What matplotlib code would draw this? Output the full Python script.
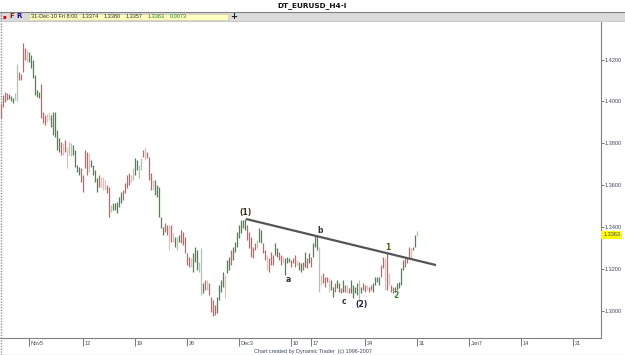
import matplotlib
matplotlib.use("Agg")
import matplotlib.pyplot as plt
import matplotlib.transforms as mtransforms
from matplotlib.patches import Rectangle
from matplotlib.lines import Line2D

# H4 bars (high / low per bar)
highs = [
    1.3992, 1.4030, 1.4045, 1.4040, 1.4035, 1.4026, 1.4016, 1.4040, 1.4178, 1.4140,
    1.4130, 1.4278, 1.4255, 1.4245, 1.4235, 1.4221, 1.4197, 1.4126, 1.4054, 1.4045,
    1.4083, 1.3949, 1.3935, 1.3940, 1.3944, 1.3935, 1.3949, 1.3949, 1.3863, 1.3825,
    1.3806, 1.3801, 1.3816, 1.3782, 1.3806, 1.3801, 1.3792, 1.3768, 1.3696, 1.3687,
    1.3682, 1.3649, 1.3768, 1.3758, 1.3754, 1.3720, 1.3696, 1.3673, 1.3634, 1.3649,
    1.3639, 1.3639, 1.3625, 1.3601, 1.3591, 1.3506, 1.3515, 1.3515, 1.3520, 1.3544,
    1.3568, 1.3577, 1.3611, 1.3649, 1.3658, 1.3649, 1.3682, 1.3730, 1.3720, 1.3696,
    1.3730, 1.3768, 1.3782, 1.3758, 1.3735, 1.3658, 1.3625, 1.3625, 1.3601, 1.3591,
    1.3448, 1.3401, 1.3420, 1.3410, 1.3410, 1.3410, 1.3372, 1.3353, 1.3353, 1.3363,
    1.3386, 1.3377, 1.3353, 1.3277, 1.3258, 1.3253, 1.3277, 1.3305, 1.3291, 1.3234,
    1.3301, 1.3134, 1.3148, 1.3148, 1.3134, 1.3067, 1.3052, 1.3029, 1.3067, 1.3124,
    1.3148, 1.3186, 1.3172, 1.3243, 1.3258, 1.3291, 1.3305, 1.3329, 1.3377, 1.3410,
    1.3434, 1.3434, 1.3439, 1.3410, 1.3377, 1.3353, 1.3305, 1.3324, 1.3339, 1.3396,
    1.3386, 1.3324, 1.3291, 1.3267, 1.3253, 1.3281, 1.3267, 1.3324, 1.3301, 1.3281,
    1.3267, 1.3262, 1.3253, 1.3258, 1.3253, 1.3243, 1.3253, 1.3267, 1.3243, 1.3234,
    1.3229, 1.3234, 1.3281, 1.3253, 1.3277, 1.3258, 1.3324, 1.3363, 1.3358, 1.3305,
    1.3172, 1.3181, 1.3162, 1.3162, 1.3157, 1.3148, 1.3115, 1.3134, 1.3148, 1.3134,
    1.3110, 1.3148, 1.3124, 1.3124, 1.3110, 1.3148, 1.3124, 1.3115, 1.3134, 1.3148,
    1.3115, 1.3134, 1.3124, 1.3124, 1.3115, 1.3124, 1.3134, 1.3162, 1.3162, 1.3162,
    1.3219, 1.3258, 1.3253, 1.3277, 1.3181, 1.3124, 1.3115, 1.3115, 1.3134, 1.3138,
    1.3205, 1.3243, 1.3253, 1.3258, 1.3305, 1.3301, 1.3305, 1.3363, 1.3380,
]
lows = [
    1.3921, 1.3973, 1.3997, 1.4006, 1.4011, 1.4002, 1.3992, 1.4006, 1.4002, 1.4102,
    1.4102, 1.4140, 1.4197, 1.4188, 1.4188, 1.4159, 1.4111, 1.4030, 1.4021, 1.4016,
    1.3921, 1.3897, 1.3887, 1.3902, 1.3911, 1.3878, 1.3840, 1.3830, 1.3768, 1.3758,
    1.3744, 1.3744, 1.3758, 1.3682, 1.3744, 1.3739, 1.3744, 1.3687, 1.3663, 1.3649,
    1.3615, 1.3568, 1.3682, 1.3649, 1.3663, 1.3687, 1.3649, 1.3615, 1.3568, 1.3591,
    1.3587, 1.3577, 1.3577, 1.3563, 1.3448, 1.3472, 1.3482, 1.3482, 1.3467, 1.3496,
    1.3515, 1.3529, 1.3563, 1.3587, 1.3601, 1.3615, 1.3625, 1.3649, 1.3673, 1.3634,
    1.3673, 1.3735, 1.3720, 1.3730, 1.3625, 1.3577, 1.3577, 1.3553, 1.3544, 1.3448,
    1.3396, 1.3363, 1.3377, 1.3363, 1.3291, 1.3329, 1.3329, 1.3305, 1.3291, 1.3329,
    1.3324, 1.3315, 1.3277, 1.3219, 1.3210, 1.3210, 1.3186, 1.3234, 1.3196, 1.3186,
    1.3076, 1.3086, 1.3100, 1.3100, 1.3076, 1.2995, 1.2976, 1.2981, 1.2990, 1.3052,
    1.3091, 1.3115, 1.3062, 1.3181, 1.3196, 1.3219, 1.3243, 1.3281, 1.3305, 1.3348,
    1.3372, 1.3396, 1.3386, 1.3339, 1.3301, 1.3258, 1.3253, 1.3291, 1.3301, 1.3329,
    1.3324, 1.3277, 1.3243, 1.3196, 1.3186, 1.3219, 1.3219, 1.3267, 1.3258, 1.3243,
    1.3219, 1.3229, 1.3172, 1.3229, 1.3234, 1.3210, 1.3229, 1.3210, 1.3219, 1.3196,
    1.3186, 1.3196, 1.3210, 1.3205, 1.3229, 1.3210, 1.3258, 1.3305, 1.3291, 1.3091,
    1.3124, 1.3134, 1.3115, 1.3138, 1.3091, 1.3100, 1.3067, 1.3091, 1.3110, 1.3091,
    1.3086, 1.3091, 1.3091, 1.3086, 1.3086, 1.3086, 1.3062, 1.3086, 1.3076, 1.3052,
    1.3086, 1.3100, 1.3091, 1.3100, 1.3091, 1.3100, 1.3091, 1.3124, 1.3138, 1.3124,
    1.3162, 1.3205, 1.3100, 1.3100, 1.3124, 1.3091, 1.3086, 1.3091, 1.3100, 1.3110,
    1.3124, 1.3196, 1.3210, 1.3229, 1.3253, 1.3253, 1.3291, 1.3305, 1.3357,
]
# r = down, R = faded down, g = up, G = faded up
bar_colors = (
    "rrrrgggGGr" "rrrRgggggg" "rrrRRggggg" "rRrRGGgggg" "rrrrRggggr"
    "RRRrrGgggg" "grrrrRGggG" "GrRrrrRggg" "ggrrRrRgGg" "rrrrrRgggG"
    "GgrRrrrrgg" "ggRggrgggg" "gggrrrrrGg" "grrRrrrggr" "rRgggrrrRg"
    "grgrgrgggG" "RrrrRggrgg" "rgrRrggggG" "grrRrrgggg" "rrRrRrrggg"
    "ggrrrRggG"
)

date_bars = [14, 41, 67, 93, 119, 145, 155, 182, 208, 234, 260, 286]
date_labels = ["Nov5", "12", "19", "26", "Dec3", "10", "17", "24", "31", "Jan7", "14", "21"]
price_ticks = [1.30, 1.32, 1.34, 1.36, 1.38, 1.40, 1.42]
last_bar = ["31-Dec-10 Fri 8:00", "1.3374", "1.3380", "1.3357", "1.3363", "0.0073"]
last_price = 1.3363

trend_bars = [122.5, 217.5]
trend_prices = [1.3439, 1.3219]

wave_labels = ["(1)", "a", "b", "c", "(2)", "1", "2"]
wave_bars = [122.5, 143.5, 159.5, 171.5, 180, 193.5, 197.5]
wave_prices = [1.3472, 1.3148, 1.3382, 1.3043, 1.3029, 1.3305, 1.3072]
wave_colors = ["#3a2c10", "#303030", "#303030", "#303030", "#202040", "#4a6410", "#2a8a2a"]

palette = {"r": "#f45050", "R": "#ffb0b0", "g": "#3f8f3f", "G": "#a6cca6"}
small = dict(family="Liberation Sans", fontsize=4.0, color="#404858")

W, H = 625, 355
fig = plt.figure(figsize=(W / 100, H / 100), dpi=100)
fig.patch.set_facecolor("white")

ax = fig.add_axes([0 / W, (H - 338) / H, 601 / W, (338 - 22) / H])
ax.set_facecolor("white")

xs = list(range(len(highs)))
ax.vlines(xs, lows, highs, colors=[palette[c] for c in bar_colors], linewidth=0.9)

ax.plot(trend_bars, trend_prices, color="#555555", linewidth=1.6, solid_capstyle="butt")

for lbl, xb, yp, col in zip(wave_labels, wave_bars, wave_prices, wave_colors):
    ax.text(xb, yp, lbl, ha="center", va="center", fontsize=5.5, fontweight="bold", color=col)

ax.set_xlim(-0.5, 300)
ax.set_ylim(1.2871, 1.4379)

for s in ["top", "left"]:
    ax.spines[s].set_visible(False)
ax.spines["right"].set_color("#808080")
ax.spines["bottom"].set_color("#808080")

ax.yaxis.tick_right()
ax.set_yticks(price_ticks)
ax.set_yticklabels([f"{p:.4f}" for p in price_ticks])
for t in ax.get_yticklabels():
    t.set_fontfamily("Liberation Sans")
ax.tick_params(axis="y", direction="out", length=2.0, width=0.6, color="#606060",
               labelsize=4.0, labelcolor="#404858", pad=0.8)

ax.set_xticks(date_bars)
ax.set_xticklabels([])
ax.tick_params(axis="x", direction="out", length=6, width=0.6, color="#606060")
trans = mtransforms.blended_transform_factory(ax.transData, ax.transAxes)
for xb, lbl in zip(date_bars, date_labels):
    ax.text(xb + 0.8, -0.016, lbl, transform=trans, ha="left", va="center", **small)

# current price flag on the right scale
ax.text(1.0035, last_price, f"{last_price:.4f}", transform=ax.get_yaxis_transform(),
        ha="left", va="center", **small,
        bbox=dict(boxstyle="square,pad=0.3", fc="#ffff00", ec="none"))

# left border
fig.add_artist(Line2D([0.5 / W, 0.5 / W], [0, (H - 12) / H], color="#909090", linewidth=1.0,
                      linestyle=(0, (1, 1))))

# title
fig.text(312 / W, (H - 6) / H, "DT_EURUSD_H4-I", ha="center", va="center",
         fontsize=5.3, fontweight="bold", color="#101010")

# toolbar strip
fig.add_artist(Rectangle((0, (H - 21) / H), 1, 9 / H, transform=fig.transFigure,
                         fc="#dadada", ec="none"))
fig.add_artist(Line2D([0, 1], [(H - 11.7) / H] * 2, color="#808080", linewidth=0.8))
fig.add_artist(Line2D([0, 1], [(H - 21) / H] * 2, color="#c0c0c0", linewidth=0.6))
fig.add_artist(Rectangle((29 / W, (H - 19.5) / H), 199 / W, 6 / H, transform=fig.transFigure,
                         fc="#ffffc0", ec="#c8c8a0", linewidth=0.4))
fig.text(4 / W, (H - 16.5) / H, "\u25aa", ha="center", va="center", fontsize=4, color="#e00000")
fig.text(12 / W, (H - 16.5) / H, "F", ha="center", va="center", fontsize=5,
         fontweight="bold", color="#a01010")
fig.text(19 / W, (H - 16.5) / H, "R", ha="center", va="center", fontsize=5,
         fontweight="bold", color="#101080")
info_x = [31, 82, 104, 126, 148, 170]
info_c = ["#303030", "#303030", "#303030", "#303030", "#2a7a2a", "#2a7a2a"]
for xp, txt, col in zip(info_x, last_bar, info_c):
    fig.text(xp / W, (H - 16.5) / H, txt, ha="left", va="center",
             family="Liberation Sans", fontsize=4.0, color=col)
fig.text(234 / W, (H - 16.5) / H, "+", ha="center", va="center", fontsize=6,
         fontweight="bold", color="#202020")

# footer
fig.text(313 / W, (H - 351) / H, "Chart created by Dynamic Trader  (c) 1996-2007",
         ha="center", va="center", **small)
fig.add_artist(Line2D([0, 1], [(H - 354.5) / H] * 2, color="#909090", linewidth=0.8))

fig.savefig("out.png", dpi=100)
